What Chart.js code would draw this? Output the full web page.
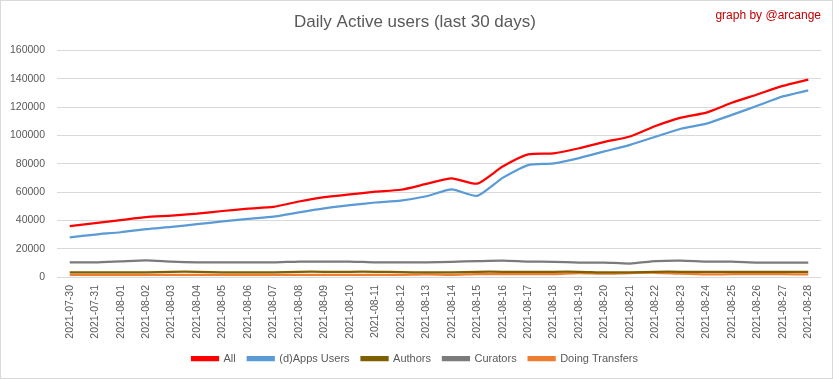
<!DOCTYPE html>
<html>
<head>
<meta charset="utf-8">
<script src="https://cdn.jsdelivr.net/npm/chart.js@4"></script>
<style>
html,body{margin:0;padding:0;background:#fff;}
#wrap{width:833px;height:379px;box-sizing:border-box;border:1px solid #d9d9d9;position:relative;}
canvas{display:block;}
</style>
</head>
<body>
<div id="wrap"><canvas id="c" width="831" height="377"></canvas></div>
<script>
const dates = ["2021-07-30","2021-07-31","2021-08-01","2021-08-02","2021-08-03","2021-08-04","2021-08-05","2021-08-06","2021-08-07","2021-08-08","2021-08-09","2021-08-10","2021-08-11","2021-08-12","2021-08-13","2021-08-14","2021-08-15","2021-08-16","2021-08-17","2021-08-18","2021-08-19","2021-08-20","2021-08-21","2021-08-22","2021-08-23","2021-08-24","2021-08-25","2021-08-26","2021-08-27","2021-08-28"];
const allUsers = [35900,38100,40200,42300,43300,44700,46600,48300,49500,53300,56400,58300,60200,61600,65700,69700,65900,78000,86600,87300,90900,95400,99200,106600,112500,116100,123000,128900,134900,139400];
const appsUsers = [28000,30000,31600,33800,35400,37300,39200,41100,42600,45700,48500,50700,52600,54000,57000,61800,57300,70000,79000,80200,84000,88700,93300,99000,104700,108300,114500,120900,127500,131800];
const authors = [3200,3200,3200,3300,3700,3700,3300,3200,3200,3700,3700,3700,3700,3500,3200,3300,3700,3700,3700,3700,3700,3200,3300,3700,3700,3700,3700,3700,3700,3700];
const curators = [10300,10300,11000,11700,10800,10300,10300,10300,10300,10900,10900,10900,10300,10300,10300,10700,11200,11600,10900,10700,10200,10200,9500,11200,11600,10900,10900,10200,10200,10200];
const transfers = [1500,1500,1500,1500,1500,1500,1500,1500,1500,1500,1500,1500,1500,1500,1800,1500,2000,2000,2000,2000,2800,2300,2800,3000,2300,1800,2000,2000,2000,1800];
const yTicks = [0,20000,40000,60000,80000,100000,120000,140000,160000];

const seriesNames = ["All","(d)Apps Users","Authors","Curators","Doing Transfers"];
const seriesData = [allUsers, appsUsers, authors, curators, transfers];
const seriesColors = ["#ff0000","#5b9bd5","#7f6000","#7b7b7b","#ed7d31"];

const creditPlugin = {
  id:'credit',
  afterDraw(chart){
    const ctx = chart.ctx;
    ctx.save();
    ctx.font = '12px "Liberation Sans", sans-serif';
    ctx.fillStyle = '#c00000';
    ctx.textAlign = 'right';
    ctx.textBaseline = 'middle';
    ctx.fillText('graph by @arcange', 820, 15);
    ctx.restore();
  }
};

new Chart(document.getElementById('c'), {
  type:'line',
  data:{
    labels:dates,
    datasets:seriesNames.map((n,i)=>({
      label:n,
      data:seriesData[i],
      borderColor:seriesColors[i],
      backgroundColor:seriesColors[i],
      borderWidth:2.25,
      pointRadius:0,
      tension:0.2,
      fill:false
    }))
  },
  options:{
    responsive:false,
    animation:false,
    layout:{padding:{left:8,right:11,top:0,bottom:4}},
    plugins:{
      title:{display:true,text:'Daily Active users (last 30 days)',color:'#595959',
        font:{family:'"Liberation Sans", sans-serif',size:17,weight:'normal'},
        padding:{top:11,bottom:18}},
      legend:{position:'bottom',
        labels:{boxWidth:26,boxHeight:3,color:'#595959',padding:12,
          font:{family:'"Liberation Sans", sans-serif',size:11}}},
      tooltip:{enabled:false}
    },
    scales:{
      x:{
        offset:true,
        grid:{display:false,drawTicks:false},
        border:{display:false},
        afterFit(scale){ scale.height = 64; scale.paddingLeft = 0; scale.paddingRight = 0; },
        ticks:{minRotation:90,maxRotation:90,color:'#595959',autoSkip:false,padding:8,
          font:{family:'"Liberation Sans", sans-serif',size:10.5}}
      },
      y:{
        min:0,max:160000,
        afterBuildTicks(axis){axis.ticks = yTicks.map(v=>({value:v}));},
        afterFit(scale){ scale.width = 48; },
        grid:{color:'#d9d9d9',lineWidth:1,drawTicks:false},
        border:{display:false},
        ticks:{color:'#595959',padding:12,callback:(v)=>String(v),
          font:{family:'"Liberation Sans", sans-serif',size:10.5}}
      }
    }
  },
  plugins:[creditPlugin]
});
</script>
</body>
</html>
